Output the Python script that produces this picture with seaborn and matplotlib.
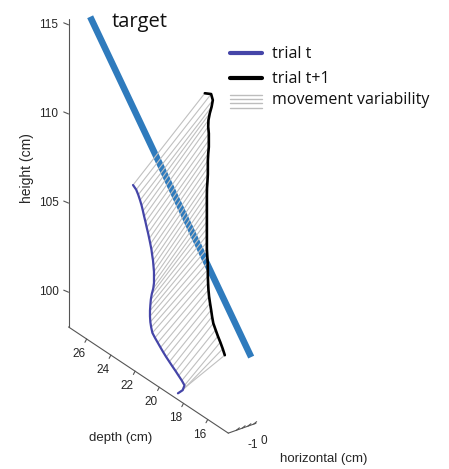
import numpy as np
import matplotlib
matplotlib.use('Agg')
import matplotlib.pyplot as plt
from matplotlib.lines import Line2D
import seaborn as sns

# ---------------- data (cm) ----------------
trial_t_depth = [19.22, 18.83, 18.68, 18.90, 19.16, 19.41, 19.67, 19.93, 20.19, 20.42,
                 20.66, 20.89, 21.12, 21.33, 21.43, 21.50, 21.53, 21.53, 21.50, 21.46,
                 21.38, 21.26, 21.20, 21.20, 21.20, 21.24, 21.28, 21.35, 21.41, 21.50,
                 21.59, 21.69, 21.80, 21.90, 22.01, 22.11, 22.22, 22.35, 22.50, 22.67, 22.93]
trial_t_height = [97.88, 98.23, 98.57, 98.74, 98.89, 99.04, 99.18, 99.33, 99.48, 99.63,
                  99.80, 99.97, 100.14, 100.32, 100.58, 100.85, 101.16, 101.47, 101.80, 102.13,
                  102.48, 102.84, 103.18, 103.49, 103.81, 104.10, 104.40, 104.68, 104.96, 105.23,
                  105.49, 105.76, 106.02, 106.28, 106.54, 106.80, 107.06, 107.30, 107.54, 107.75, 107.89]
trial_t_horizontal = -1.4

trial_t1_depth = [16.11, 16.28, 16.48, 16.68, 16.87, 17.06, 17.16, 17.24, 17.33, 17.41,
                  17.46, 17.49, 17.51, 17.51, 17.52, 17.56, 17.59, 17.59, 17.59, 17.59,
                  17.59, 17.59, 17.59, 17.59, 17.59, 17.58, 17.54, 17.51, 17.51, 17.51,
                  17.48, 17.43, 17.43, 17.43, 17.48, 17.46, 17.35, 17.20, 17.10, 17.24, 17.76]
trial_t1_height = [101.24, 101.52, 101.80, 102.05, 102.32, 102.60, 102.93, 103.27, 103.61, 103.95,
                   104.30, 104.67, 105.04, 105.42, 105.80, 106.16, 106.53, 106.91, 107.29, 107.67,
                   108.06, 108.43, 108.81, 109.20, 109.58, 109.96, 110.36, 110.76, 111.14, 111.52,
                   111.92, 112.32, 112.70, 113.08, 113.44, 113.82, 114.25, 114.68, 115.10, 115.38, 115.19]
trial_t1_horizontal = -0.6

target_depth = [26.85, 13.55]
target_height = [115.47, 102.38]
target_horizontal = -1.0

height_ticks = [100, 105, 110, 115]
depth_ticks = [16, 18, 20, 22, 24, 26]
horizontal_ticks = [-1.5, -1.0, -0.5, 0.0]
horizontal_ticklabels = {-1.0: "-1", 0.0: "0"}

h_lim = (-2.2, 0.2)
d_lim = (14.3, 27.5)
z_lim = (98.05, 115.3)

# ---------------- style ----------------
sns.set_theme(style='white')
plt.rcParams['font.family'] = ['Liberation Sans', 'DejaVu Sans']

pal = {'target': '#2f7bbd', 'trial t': '#4545a8', 'trial t+1': '#000000',
       'var': '#c0c0c0', 'axis': '#555555', 'text': '#262626'}

W, H = 449, 469
fig = plt.figure(figsize=(W / 100, H / 100), dpi=100)
fig.patch.set_facecolor('white')
side = 400
ax = fig.add_axes([-43.2 / W, 42.2 / H, side / W, side / H], projection='3d',
                  computed_zorder=False)
ax.set_proj_type('ortho')
ax.view_init(elev=29.1, azim=-126.2)
ax.set_xlim(*h_lim)
ax.set_ylim(*d_lim)
ax.set_zlim(*z_lim)
ax.set_box_aspect(((h_lim[1] - h_lim[0]) * 14.25,
                   (d_lim[1] - d_lim[0]) * 20.5,
                   (z_lim[1] - z_lim[0]) * 20.4), zoom=1.0805)
ax.set_axis_off()
ax.patch.set_alpha(0)

hmin, hmax = h_lim
dmin, dmax = d_lim
zmin, zmax = z_lim

akw = dict(color=pal['axis'], lw=0.8, zorder=0, clip_on=False)
# axis lines and tick marks
ax.plot([hmin, hmin], [dmax, dmax], [zmin, zmax], **akw)
ax.plot([hmin, hmin], [dmin, dmax], [zmin, zmin], **akw)
ax.plot([hmin, hmax], [dmin, dmin], [zmin, zmin], **akw)
for zt in height_ticks:
    ax.plot([hmin, hmin - 0.1], [dmax, dmax + 0.3], [zt, zt], **akw)
for dt in depth_ticks:
    ax.plot([hmin, hmin - 0.15], [dt, dt], [zmin, zmin - 0.15], **akw)
for ht in horizontal_ticks:
    ax.plot([ht, ht], [dmin, dmin - 0.25], [zmin, zmin + 0.25], **akw)

# target line
ax.plot([target_horizontal] * 2, target_depth, target_height, color=pal['target'],
        lw=4.7, solid_capstyle='butt', zorder=1, clip_on=False)

# movement variability lines
for i in range(len(trial_t_depth)):
    ax.plot([trial_t_horizontal, trial_t1_horizontal],
            [trial_t_depth[i], trial_t1_depth[i]],
            [trial_t_height[i], trial_t1_height[i]],
            color=pal['var'], lw=0.8, zorder=2, clip_on=False)

# trials
ax.plot([trial_t_horizontal] * len(trial_t_depth), trial_t_depth, trial_t_height,
        color=pal['trial t'], lw=1.6, zorder=3, clip_on=False)
ax.plot([trial_t1_horizontal] * len(trial_t1_depth), trial_t1_depth, trial_t1_height,
        color=pal['trial t+1'], lw=1.9, zorder=3, clip_on=False)

# tick labels: project 3D anchor points to the 2D axes coordinates
fig.canvas.draw()
M = ax.get_proj()


def to2d(x, y, z):
    v = M @ np.array([x, y, z, 1.0])
    return v[0] / v[3], v[1] / v[3]


tfs = 8.5
for zt in height_ticks:
    px, py = to2d(hmin - 0.566, dmax + 0.288, zt)
    ax.text2D(px, py, str(zt), transform=ax.transData, ha='right', va='center',
              fontsize=tfs, color=pal['text'], clip_on=False)
for dt in depth_ticks:
    px, py = to2d(hmin - 0.68, dt, zmin - 0.69)
    ax.text2D(px, py, str(dt), transform=ax.transData, ha='center', va='center',
              fontsize=tfs, color=pal['text'], clip_on=False)
for ht in horizontal_ticks:
    if ht in horizontal_ticklabels:
        px, py = to2d(ht, dmin - 0.85, zmin - 0.57)
        ax.text2D(px, py, horizontal_ticklabels[ht], transform=ax.transData,
                  ha='center', va='center', fontsize=tfs, color=pal['text'],
                  clip_on=False)


# axis titles
def fx(x):
    return x / W


def fy(y):
    return 1 - y / H


fig.text(fx(27.5), fy(168.5), 'height (cm)', rotation=90, ha='center', va='center',
         fontsize=10, color=pal['text'])
fig.text(fx(121), fy(438), 'depth (cm)', ha='center', va='center', fontsize=9.5,
         color=pal['text'])
fig.text(fx(323.5), fy(459), 'horizontal (cm)', ha='center', va='center', fontsize=9.5,
         color=pal['text'])

# legend and target label
lfam = ['Open Sans', 'DejaVu Sans']
fig.text(fx(112), fy(26.7), 'target', ha='left', va='baseline', fontsize=14.5,
         family=lfam, color='#111111')
fig.add_artist(Line2D([fx(230), fx(262)], [fy(52.7), fy(52.7)], color=pal['trial t'],
                      lw=3.0, transform=fig.transFigure))
fig.add_artist(Line2D([fx(230), fx(262)], [fy(77.7), fy(77.7)], color=pal['trial t+1'],
                      lw=3.0, transform=fig.transFigure))
for yy in [95.3, 99.4, 103.5, 107.6]:
    fig.add_artist(Line2D([fx(230), fx(262)], [fy(yy), fy(yy)], color='#bdbdbd',
                          lw=1.0, transform=fig.transFigure))
fig.text(fx(271.7), fy(58.3), 'trial t', ha='left', va='baseline', fontsize=11.5,
         family=lfam, color='#111111')
fig.text(fx(271.7), fy(82.7), 'trial t+1', ha='left', va='baseline', fontsize=11.5,
         family=lfam, color='#111111')
fig.text(fx(271.7), fy(104.0), 'movement variability', ha='left', va='baseline',
         fontsize=11.5, family=lfam, color='#111111')

fig.savefig('out.png', dpi=100, facecolor='white')
